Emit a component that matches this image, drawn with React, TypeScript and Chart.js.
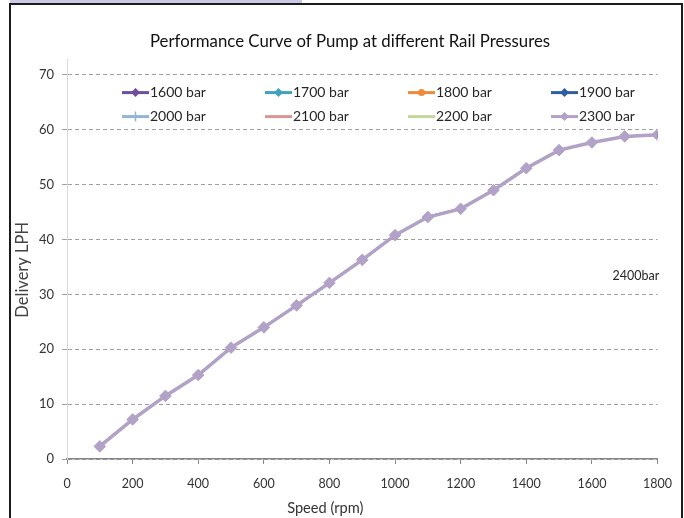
import React, { useEffect, useRef } from 'react';
import { Chart, registerables } from 'chart.js';

Chart.register(...registerables);

const TITLE = 'Performance Curve of Pump at different Rail Pressures';
const X_TITLE = 'Speed (rpm)';
const Y_TITLE = 'Delivery LPH';
const NOTE_TEXT = '2400bar';
const NOTE_X = 1663;
const NOTE_Y = 33.4;

const SPEEDS = [100, 200, 300, 400, 500, 600, 700, 800, 900, 1000, 1100, 1200, 1300, 1400, 1500, 1600, 1700, 1800];
const DELIVERY = [2.3, 7.2, 11.5, 15.3, 20.3, 24.0, 28.0, 32.1, 36.3, 40.8, 44.1, 45.6, 49.0, 53.0, 56.3, 57.7, 58.8, 59.1];

const SERIES_LABELS = ['1600 bar', '1700 bar', '1800 bar', '1900 bar', '2000 bar', '2100 bar', '2200 bar', '2300 bar'];
const SERIES_COLORS = ['#6e4e9e', '#3fa3bf', '#ef8a3a', '#2f5f9e', '#95b3d7', '#d99694', '#c3d69b', '#b3a2c7'];
const SERIES_MARKERS = ['diamond', 'diamond', 'circle', 'diamond', 'cross', 'none', 'none', 'diamond'];

const X_MIN = 0;
const X_MAX = 1800;
const X_STEP = 200;
const Y_MIN = 0;
const Y_MAX = 72.8;
const Y_STEP = 10;

const FONT = 'Lato, "Open Sans", sans-serif';

function drawMarker(ctx: CanvasRenderingContext2D, kind: string, x: number, y: number, color: string) {
  ctx.save();
  ctx.fillStyle = color;
  ctx.strokeStyle = color;
  if (kind === 'diamond') {
    const r = 4.5;
    ctx.beginPath();
    ctx.moveTo(x, y - r);
    ctx.lineTo(x + r, y);
    ctx.lineTo(x, y + r);
    ctx.lineTo(x - r, y);
    ctx.closePath();
    ctx.fill();
  } else if (kind === 'circle') {
    ctx.beginPath();
    ctx.arc(x, y, 3.5, 0, Math.PI * 2);
    ctx.fill();
  } else if (kind === 'cross') {
    ctx.lineWidth = 1.5;
    ctx.beginPath();
    ctx.moveTo(x - 5, y);
    ctx.lineTo(x + 5, y);
    ctx.moveTo(x, y - 5);
    ctx.lineTo(x, y + 5);
    ctx.stroke();
  }
  ctx.restore();
}

const legendPlugin = {
  id: 'excelLegend',
  afterDatasetsDraw(chart: any) {
    const { ctx, chartArea } = chart;
    SERIES_LABELS.forEach((label, i) => {
      const col = i % 4;
      const row = Math.floor(i / 4);
      const x0 = chartArea.left + 55 + col * 143;
      const y = chartArea.top + 33 + row * 24;
      const color = SERIES_COLORS[i];
      ctx.save();
      ctx.strokeStyle = color;
      ctx.lineWidth = 3;
      ctx.beginPath();
      ctx.moveTo(x0, y);
      ctx.lineTo(x0 + 27, y);
      ctx.stroke();
      drawMarker(ctx, SERIES_MARKERS[i], x0 + 13.5, y, color);
      ctx.fillStyle = '#262626';
      ctx.font = '14px ' + FONT;
      ctx.textAlign = 'left';
      ctx.textBaseline = 'middle';
      ctx.fillText(label, x0 + 28, y);
      ctx.restore();
    });
  },
};

const textPlugin = {
  id: 'texts',
  afterDraw(chart: any) {
    const { ctx, chartArea } = chart;
    const x = chart.scales.x.getPixelForValue(NOTE_X);
    const y = chart.scales.y.getPixelForValue(NOTE_Y);
    ctx.save();
    ctx.textBaseline = 'middle';

    // chart title
    ctx.fillStyle = '#111';
    ctx.font = '16.8px ' + FONT;
    ctx.textAlign = 'center';
    ctx.fillText(TITLE, chart.width / 2 + 8, chartArea.top - 18);

    // annotation
    ctx.fillStyle = '#262626';
    ctx.font = '12.5px ' + FONT;
    ctx.textAlign = 'left';
    ctx.fillText(NOTE_TEXT, x, y);

    // axis titles
    ctx.fillStyle = '#333';
    ctx.font = '14.6px ' + FONT;
    ctx.textAlign = 'center';
    ctx.fillText(X_TITLE, (chartArea.left + chartArea.right) / 2 - 37, chartArea.bottom + 49);

    ctx.translate(23, (chartArea.top + chartArea.bottom) / 2 + 10.5);
    ctx.rotate(-Math.PI / 2);
    ctx.fillStyle = '#444';
    ctx.font = '16.5px ' + FONT;
    ctx.fillText(Y_TITLE, 0, 0);
    ctx.restore();
  },
};

export default function App() {
  const ref = useRef<HTMLCanvasElement | null>(null);

  useEffect(() => {
    if (!ref.current) return;
    const last = SERIES_LABELS.length - 1;
    const datasets = SERIES_LABELS.map((label, i) => {
      const kind = SERIES_MARKERS[i];
      return {
        label,
        data: SPEEDS.map((s, j) => ({ x: s, y: DELIVERY[j] })),
        borderColor: SERIES_COLORS[i],
        backgroundColor: SERIES_COLORS[i],
        borderWidth: i === last ? 3.5 : 2,
        pointStyle: kind === 'diamond' ? 'rectRot' : kind === 'circle' ? 'circle' : kind === 'cross' ? 'cross' : 'circle',
        pointRadius: kind === 'none' ? 0 : i === last ? 5.8 : 3,
        pointBorderWidth: 1,
        tension: 0,
        order: i === last ? 0 : 1,
      };
    });

    const chart = new Chart(ref.current, {
      type: 'line',
      data: { datasets },
      options: {
        animation: false,
        responsive: false,
        maintainAspectRatio: false,
        layout: { padding: { left: 0, right: 26, top: 59.6, bottom: 0 } },
        plugins: {
          legend: { display: false },
          tooltip: { enabled: false },
          title: { display: false },
        },
        scales: {
          x: {
            type: 'linear',
            min: X_MIN,
            max: X_MAX,
            afterFit: (s: any) => { s.height = 59; },
            ticks: {
              stepSize: X_STEP,
              color: '#333',
              font: { family: FONT, size: 12.5 },
              padding: 12,
              maxRotation: 0,
              callback: (v: any) => String(v),
            },
            grid: {
              drawOnChartArea: false,
              drawTicks: true,
              tickLength: 5,
              color: '#868686',
            },
            border: { display: true, color: '#868686', width: 1.5 },
          },
          y: {
            type: 'linear',
            min: Y_MIN,
            max: Y_MAX,
            afterFit: (s: any) => { s.width = 67; },
            afterBuildTicks: (s: any) => {
              s.ticks = s.ticks.filter((t: any) => Math.abs(t.value / Y_STEP - Math.round(t.value / Y_STEP)) < 1e-6);
            },
            ticks: {
              stepSize: Y_STEP,
              includeBounds: false,
              color: '#333',
              font: { family: FONT, size: 13 },
              padding: 8,
              callback: (v: any) => String(v),
            },
            grid: {
              color: '#a0a0a0',
              lineWidth: 1,
              tickLength: 5,
              drawTicks: true,
            },
            border: { display: true, color: '#d9d9d9', width: 1, dash: [4, 3] },
          },
        },
      },
      plugins: [legendPlugin, textPlugin],
    } as any);
    return () => chart.destroy();
  }, []);

  return (
    <div style={{ position: 'absolute', left: 0, top: 0, width: 684, height: 518, overflow: 'hidden', background: '#fff' }}>
      <canvas ref={ref} width={684} height={518} style={{ display: 'block', position: 'absolute', left: 0, top: 0 }} />
      <div style={{ position: 'absolute', left: 10, top: 0, width: 292, height: 3, background: '#c9c9e6' }} />
      <div
        style={{
          position: 'absolute',
          left: 9,
          top: 3,
          width: 674,
          height: 600,
          border: '2px solid #1c1c1c',
          boxSizing: 'border-box',
          pointerEvents: 'none',
        }}
      />
    </div>
  );
}
